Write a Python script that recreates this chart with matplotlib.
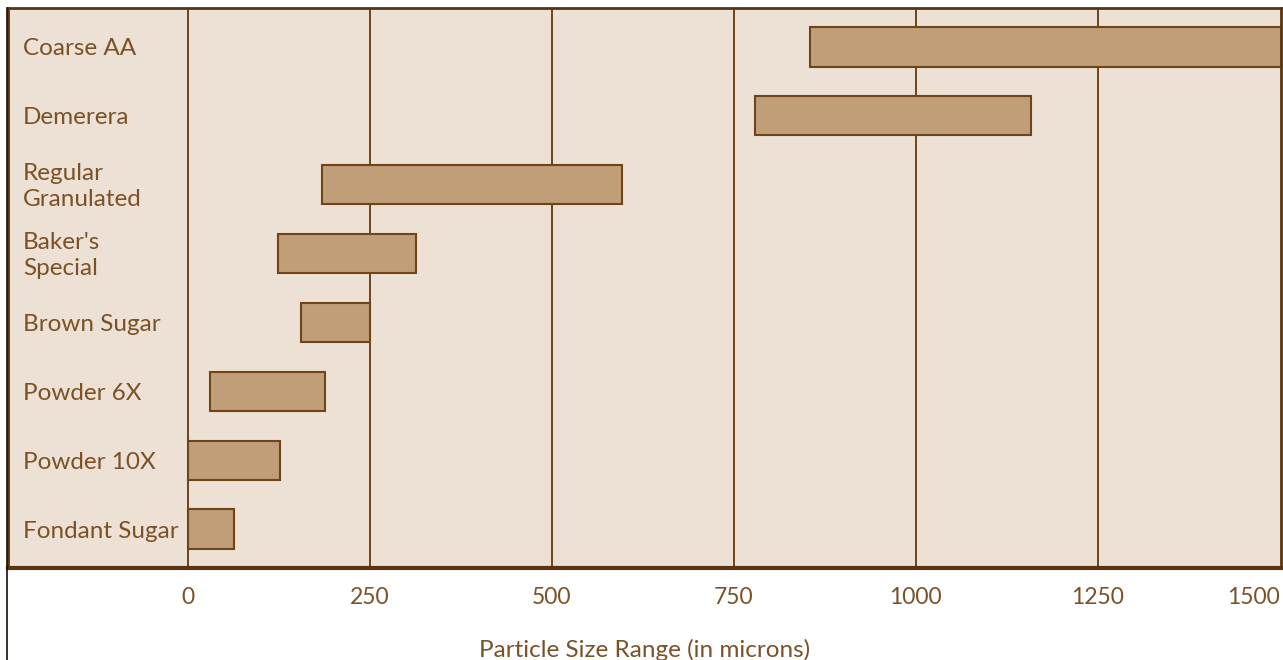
import matplotlib.pyplot as plt
from matplotlib.lines import Line2D

# Sugar particle size ranges (microns)
sugars = ['Coarse AA', 'Demerera', 'Regular\nGranulated', "Baker's\nSpecial",
          'Brown Sugar', 'Powder 6X', 'Powder 10X', 'Fondant Sugar']
size_min = [855, 780, 185, 124, 155, 30, 0, 0]
size_max = [1520, 1158, 597, 314, 250, 188, 127, 64]
ticks = [0, 250, 500, 750, 1000, 1250, 1500]

bg = '#EDE1D5'
bar_fill = '#BF9E78'
brown = '#6E4418'
text_col = '#7A5226'

plt.rcParams['font.family'] = ['Lato', 'DejaVu Sans']

fig = plt.figure(figsize=(12.83, 6.60), dpi=100)
ax = fig.add_axes([8 / 1283, 92 / 660, 1273 / 1283, 560 / 660])
ax.set_facecolor(bg)

# vertical grid lines
for t in ticks[:-1]:
    ax.axvline(t, color=brown, linewidth=1.4, zorder=1)

ypos = list(range(len(sugars)))
widths = [b - a for a, b in zip(size_min, size_max)]
ax.barh(ypos, widths, left=size_min, height=0.57, color=bar_fill,
        edgecolor=brown, linewidth=1.5, zorder=2)

ax.set_xlim(-247, 1502)
ax.set_ylim(len(sugars) - 0.435, -0.565)

# category labels drawn inside the plot area on the left
for y, name in zip(ypos, sugars):
    ax.text(15 / 1273, y + 0.03, name, transform=ax.get_yaxis_transform(),
            ha='left', va='center', fontsize=17.5, color=text_col,
            linespacing=1.3, zorder=3)

ax.set_yticks([])
ax.set_xticks(ticks)
ax.set_xticklabels([str(t) for t in ticks], fontsize=16.5, color=text_col)
ax.get_xticklabels()[-1].set_horizontalalignment('right')
ax.tick_params(axis='x', length=0, pad=14)
ax.set_xlabel('Particle Size Range (in microns)', fontsize=17.5,
              color=text_col, labelpad=22)

for side, sp in ax.spines.items():
    sp.set_color('#5A3410')
    sp.set_linewidth(3 if side == 'bottom' else 2)

# thin dark rule running down the left side of the figure
fig.add_artist(Line2D([7 / 1283, 7 / 1283], [0, 652 / 660],
                      transform=fig.transFigure, color='#1A1005', linewidth=1.2))

fig.savefig('out.png', dpi=100, facecolor='white')
